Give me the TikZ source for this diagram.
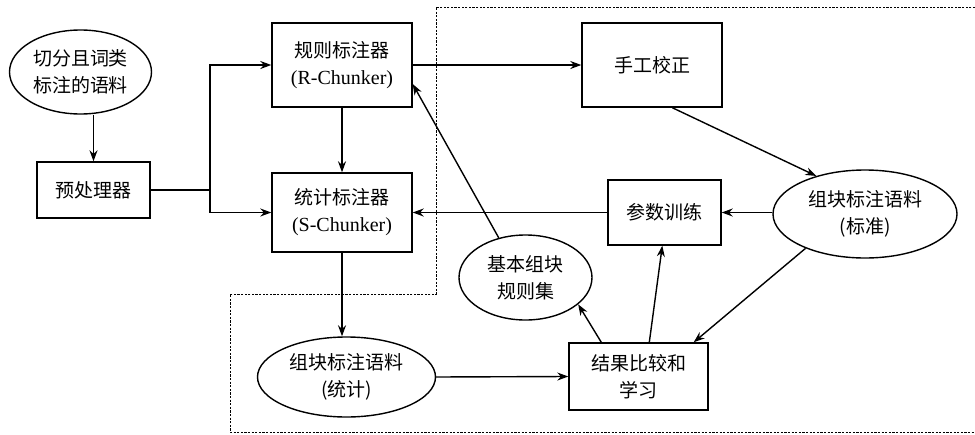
\documentclass[tikz,border=0pt]{standalone}
\usepackage{fontspec}
\setmainfont{Liberation Serif}
\newfontfamily\cjk{Noto Sans CJK SC}
\usetikzlibrary{shapes.geometric,arrows.meta,calc}
\newcommand{\latn}[1]{{\rmfamily\fontsize{20}{27}\selectfont #1}}
\tikzset{
  base/.style={draw, line width=1.4pt, align=center, inner sep=0pt,
    font=\cjk\fontsize{19}{27}\selectfont},
  box/.style={base, rectangle},
  ell/.style={base, ellipse},
  arr/.style={line width=1.4pt, -{Stealth[length=11pt,width=8pt]}},
  ln/.style={line width=1.4pt},
  region/.style={line width=1pt, dash pattern=on 2.2pt off 1.4pt}
}
\begin{document}
\begin{tikzpicture}[x=1pt,y=-1pt]
\useasboundingbox (0,0) rectangle (975,434);
% nodes
\node[ell, minimum width=142, minimum height=84] (src) at (80.5,72) {切分且词类\\标注的语料};
\node[box, minimum width=113, minimum height=56] (pre) at (93.5,190) {预处理器};
\node[box, minimum width=140, minimum height=84] (R) at (342,65) {规则标注器\\\latn{(R-Chunker)}};
\node[box, minimum width=140, minimum height=79] (S) at (342,212.5) {统计标注器\\\latn{(S-Chunker)}};
\node[box, minimum width=140, minimum height=84] (hand) at (652,65) {手工校正};
\node[box, minimum width=113, minimum height=65] (param) at (664.5,212.5) {参数训练};
\node[ell, minimum width=184, minimum height=88] (std) at (865,214) {组块标注语料\\(标准)};
\node[ell, minimum width=133, minimum height=85] (rules) at (525.5,277.5) {基本组块\\规则集};
\node[box, minimum width=139, minimum height=67] (result) at (638.5,376.5) {结果比较和\\学习};
\node[ell, minimum width=178, minimum height=80] (stat) at (346.5,377) {组块标注语料\\(统计)};
% dashed region
\draw[region] (975,7) -- (436,7) -- (436,294) -- (230,294) -- (230,432) -- (975,432);
% connectors
\coordinate (j) at (210,190);
\draw[arr] (pre.north |- src.south) -- (pre.north);
\draw[ln] (pre.east) -- (j);
\draw[arr] (j) |- (R.west);
\draw[arr] (j) |- (S.west);
\draw[arr] (R.south) -- (S.north);
\draw[arr] (R.east) -- (hand.west);
\draw[arr] ($(hand.south west)+(91,0)$) -- (std.142);
\draw[arr] (std.west |- param.east) -- (param.east);
\draw[arr] (param.west) -- (S.east);
\draw[arr] (rules.124) -- ($(R.east)+(0,19)$);
\draw[arr] ($(result.north west)+(33,0)$) -- (rules.-27);
\draw[arr] ($(result.north west)+(81,0)$) -- ($(param.south west)+(55,0)$);
\draw[arr] (std.210) -- ($(result.north east)+(-15,0)$);
\draw[arr] (S.south) -- (S.south |- stat.north);
\draw[arr] (stat.east) -- (result.west);
\end{tikzpicture}
\end{document}
